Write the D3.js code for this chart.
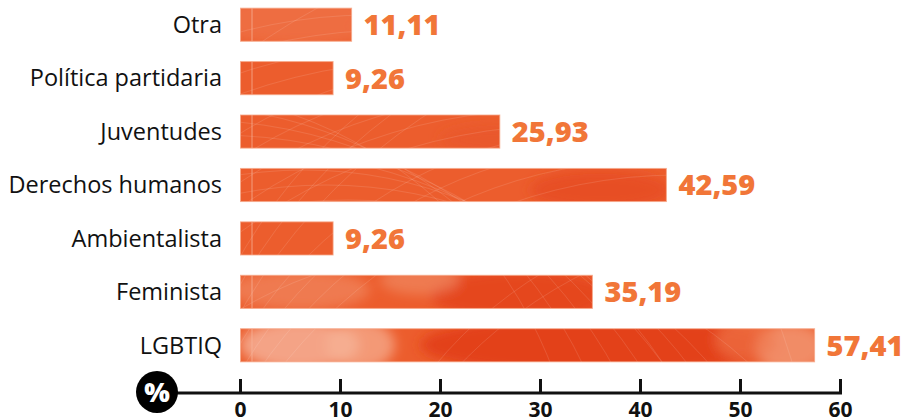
<!DOCTYPE html>
<html><head><meta charset="utf-8">
<script src="https://cdn.jsdelivr.net/npm/d3@7/dist/d3.min.js"></script>
<style>
html,body{margin:0;padding:0;background:#fff;}
svg{display:block;}
</style></head>
<body>
<svg id="chart" width="907" height="419"></svg>
<script>
const categories = ["Otra","Política partidaria","Juventudes","Derechos humanos","Ambientalista","Feminista","LGBTIQ"];
const values = [11.11, 9.26, 25.93, 42.59, 9.26, 35.19, 57.41];
const valueLabels = ["11,11","9,26","25,93","42,59","9,26","35,19","57,41"];
const tickValues = [0,10,20,30,40,50,60];

const svg = d3.select("#chart");
const x = d3.scaleLinear().domain([0,60]).range([240.5,840.5]);
const y = d3.scaleBand().domain(categories).range([-2,372]).paddingInner(0.38).paddingOuter(0.19);

// texture pattern (decoration only)
const defs = svg.append("defs");
const blur = defs.append("filter").attr("id","soft").attr("x","-20%").attr("y","-20%").attr("width","140%").attr("height","140%");
blur.append("feGaussianBlur").attr("stdDeviation",6);
const pat = defs.append("pattern").attr("id","tex").attr("patternUnits","userSpaceOnUse")
  .attr("x",0).attr("y",0).attr("width",907).attr("height",419);
pat.append("rect").attr("width",907).attr("height",419).attr("fill","#ec5d2d");
const gb = pat.append("g").attr("filter","url(#soft)");
const blobs = [
  [300,20,90,25,"#f07448",0.7],[430,30,80,20,"#ef6e42",0.5],
  [600,190,70,20,"#e4451f",0.6],[500,140,60,15,"#e8542a",0.5],
  [300,290,70,20,"#f08158",0.8],[520,295,90,25,"#e3421c",0.8],[420,280,40,15,"#f19874",0.5],
  [300,345,60,25,"#f4a68a",0.95],[360,345,35,25,"#f6b296",0.7],
  [600,345,180,30,"#e23d18",0.9],[790,348,35,25,"#f29470",0.85],[745,340,30,20,"#f07b50",0.6]
];
blobs.forEach(b=>gb.append("ellipse").attr("cx",b[0]).attr("cy",b[1]).attr("rx",b[2]).attr("ry",b[3]).attr("fill",b[4]).attr("opacity",b[5]));
for(let i=0;i<30;i++){
  const cx = 150 + i*22, cy = 520 + (i%5)*40;
  pat.append("circle").attr("cx",cx).attr("cy",cy).attr("r",430 + (i%7)*25)
    .attr("fill","none").attr("stroke","#fff").attr("stroke-width",0.7).attr("opacity",0.16);
}

const g = svg.append("g");
g.selectAll("rect.bar").data(categories).join("rect").attr("class","bar")
  .attr("x",x(0)).attr("y",d=>y(d)).attr("width",(d,i)=>x(values[i])-x(0)).attr("height",y.bandwidth())
  .attr("fill","url(#tex)").attr("stroke","#f6a888").attr("stroke-width",1).attr("stroke-opacity",0.8);
g.selectAll("line.sep").data(categories).join("line").attr("class","sep")
  .attr("x1",x(0)+11.5).attr("x2",x(0)+11.5).attr("y1",d=>y(d)).attr("y2",d=>y(d)+y.bandwidth())
  .attr("stroke","#f8b49a").attr("stroke-width",1).attr("opacity",0.75);

g.selectAll("text.cat").data(categories).join("text").attr("class","cat")
  .attr("x",222).attr("y",d=>y(d)+y.bandwidth()/2).attr("dy","0.35em")
  .attr("text-anchor","end").attr("font-family","Open Sans").attr("font-size",23.5).attr("fill","#111")
  .text(d=>d);

g.selectAll("text.val").data(categories).join("text").attr("class","val")
  .attr("x",(d,i)=>x(values[i])+12).attr("y",d=>y(d)+y.bandwidth()/2).attr("dy","0.36em")
  .attr("font-family","Open Sans").attr("font-weight",800).attr("font-size",29).attr("fill","#f17638")
  .text((d,i)=>valueLabels[i]);

// axis
const axisY = 393;
const ax = svg.append("g").attr("transform",`translate(0,${axisY})`);
ax.append("line").attr("x1",157).attr("x2",x(60)+1.5).attr("y1",0).attr("y2",0).attr("stroke","#111").attr("stroke-width",3);
ax.selectAll("line.tick").data(tickValues).join("line").attr("class","tick")
  .attr("x1",d=>x(d)).attr("x2",d=>x(d)).attr("y1",-14).attr("y2",0).attr("stroke","#111").attr("stroke-width",3);
ax.selectAll("text.tl").data(tickValues).join("text").attr("class","tl")
  .attr("x",d=>x(d)).attr("y",24).attr("text-anchor","middle")
  .attr("font-family","Open Sans").attr("font-weight",700).attr("font-size",21).attr("fill","#111")
  .text(d=>d);
ax.append("circle").attr("cx",157).attr("cy",-1).attr("r",21).attr("fill","#000");
ax.append("text").attr("x",157).attr("y",-1).attr("dy","0.36em").attr("text-anchor","middle")
  .attr("font-family","Open Sans").attr("font-weight",800).attr("font-size",27).attr("fill","#fff").text("%");
</script>
</body></html>
